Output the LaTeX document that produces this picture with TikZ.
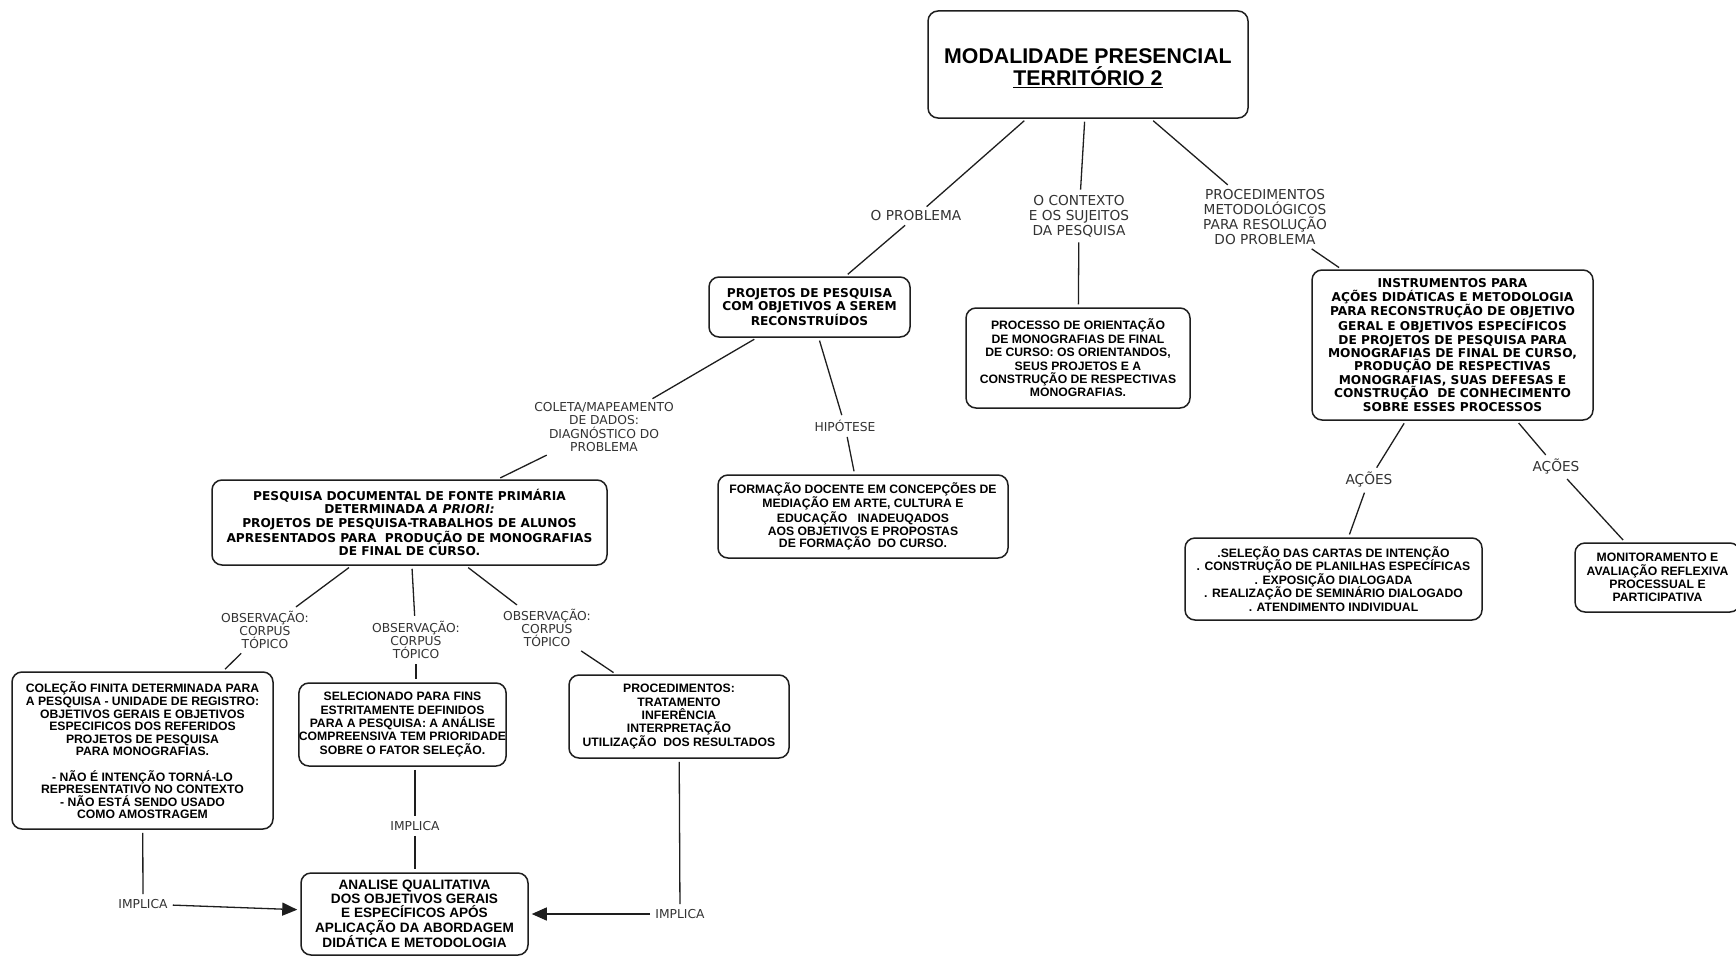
\documentclass[tikz,border=0pt]{standalone}
\usepackage{fontspec}
\setmainfont{Liberation Sans}
\newfontfamily\verd{DejaVu Sans}
\usetikzlibrary{arrows.meta}
\definecolor{linec}{HTML}{1E1E1E}
\definecolor{labc}{HTML}{333333}
\tikzset{
  box/.style={draw=linec, line width=1.5pt, rounded corners=10pt, align=center,
              inner sep=0pt, text=black},
  ab/.style={box, font=\fontsize{12.2}{13.4}\selectfont\bfseries},
  vb/.style={box, font=\fontsize{12.2}{13.4}\selectfont\verd\bfseries},
  lab/.style={align=center, inner sep=2pt, text=labc,
              font=\fontsize{13.7}{15.2}\selectfont\verd},
  labs/.style={lab, font=\fontsize{12.3}{13.3}\selectfont\verd},
  conn/.style={draw=linec, line width=1.3pt, shorten <=3pt, shorten >=3pt},
  arr/.style={conn, -{Triangle[length=15pt,width=13pt]}},
}
\begin{document}
\begin{tikzpicture}[x=1pt,y=-1pt]
\useasboundingbox[fill=white] (0,0) rectangle (1736,958);

% ---- boxes ----
\node[box, minimum width=320pt, minimum height=107pt] (T) at (1088,64.5) {};
\node[align=center, inner sep=0pt, font=\fontsize{21.3}{22}\selectfont\bfseries]
  (Tt) at (1088,68) {MODALIDADE PRESENCIAL\\ \underline{TERRITÓRIO 2}};

\node[vb, minimum width=201pt, minimum height=60pt] (P1) at (809.5,307)
  {PROJETOS DE PESQUISA\\ COM OBJETIVOS A SEREM\\ RECONSTRUÍDOS};

\node[ab, minimum width=224pt, minimum height=100pt] (P2) at (1078,358)
  {PROCESSO DE ORIENTAÇÃO\\ DE MONOGRAFIAS DE FINAL\\ DE CURSO: OS ORIENTANDOS,\\
   SEUS PROJETOS E A\\ CONSTRUÇÃO DE RESPECTIVAS\\ MONOGRAFIAS.};

\node[vb, minimum width=281pt, minimum height=150pt] (I) at (1452.5,345)
  {INSTRUMENTOS PARA\\ AÇÕES DIDÁTICAS E METODOLOGIA\\ PARA RECONSTRUÇÃO DE OBJETIVO\\
   GERAL E OBJETIVOS ESPECÍFICOS\\ DE PROJETOS DE PESQUISA PARA\\
   MONOGRAFIAS DE FINAL DE CURSO,\\ PRODUÇÃO DE RESPECTIVAS\\
   MONOGRAFIAS, SUAS DEFESAS E\\ CONSTRUÇÃO\ \ DE CONHECIMENTO\\ SOBRE ESSES PROCESSOS};

\node[ab, minimum width=297pt, minimum height=82pt] (S) at (1333.5,579)
  {.SELEÇÃO DAS CARTAS DE INTENÇÃO\\ . CONSTRUÇÃO DE PLANILHAS ESPECÍFICAS\\
   . EXPOSIÇÃO DIALOGADA\\ . REALIZAÇÃO DE SEMINÁRIO DIALOGADO\\ . ATENDIMENTO INDIVIDUAL};

\node[ab, minimum width=165pt, minimum height=69pt] (M) at (1657.5,577.5)
  {MONITORAMENTO E\\ AVALIAÇÃO REFLEXIVA\\ PROCESSUAL E\\ PARTICIPATIVA};

\node[ab, minimum width=290pt, minimum height=83pt,
      font=\fontsize{12.2}{12.7}\selectfont\bfseries] (F) at (863,516.5)
  {FORMAÇÃO DOCENTE EM CONCEPÇÕES DE\\ MEDIAÇÃO EM ARTE, CULTURA E\\
   EDUCAÇÃO\ \ \ INADEUQADOS\\ AOS OBJETIVOS E PROPOSTAS\\ DE FORMAÇÃO\ \ DO CURSO.};

\node[vb, minimum width=395pt, minimum height=85pt] (D) at (409.5,522.5)
  {PESQUISA DOCUMENTAL DE FONTE PRIMÁRIA\\ DETERMINADA \textit{A PRIORI:}\\
   PROJETOS DE PESQUISA-TRABALHOS DE ALUNOS\\
   APRESENTADOS PARA\ \ PRODUÇÃO DE MONOGRAFIAS\\ DE FINAL DE CURSO.};

\node[ab, minimum width=261pt, minimum height=157pt,
      font=\fontsize{12.2}{12.6}\selectfont\bfseries] (C) at (142.5,750.5)
  {COLEÇÃO FINITA DETERMINADA PARA\\ A PESQUISA - UNIDADE DE REGISTRO:\\
   OBJETIVOS GERAIS E OBJETIVOS\\ ESPECIFICOS DOS REFERIDOS\\ PROJETOS DE PESQUISA\\
   PARA MONOGRAFIAS.\\[12.6pt] - NÃO É INTENÇÃO TORNÁ-LO\\ REPRESENTATIVO NO CONTEXTO\\
   - NÃO ESTÁ SENDO USADO\\ COMO AMOSTRAGEM};

\node[ab, minimum width=203pt, minimum height=83pt] (E) at (402.5,724.5)
  {SELECIONADO PARA FINS\\ ESTRITAMENTE DEFINIDOS\\ PARA A PESQUISA: A ANÁLISE\\
   COMPREENSIVA TEM PRIORIDADE\\ SOBRE O FATOR SELEÇÃO.};

\node[ab, minimum width=220pt, minimum height=83pt] (R) at (679,716.5)
  {PROCEDIMENTOS:\\ TRATAMENTO\\ INFERÊNCIA\\ INTERPRETAÇÃO\\ UTILIZAÇÃO\ \ DOS RESULTADOS};

\node[ab, minimum width=227pt, minimum height=82pt,
      font=\fontsize{13.6}{14.2}\selectfont\bfseries] (A) at (414.5,914)
  {ANALISE QUALITATIVA\\ DOS OBJETIVOS GERAIS\\ E ESPECÍFICOS APÓS\\
   APLICAÇÃO DA ABORDAGEM\\ DIDÁTICA E METODOLOGIA};

% ---- link labels ----
\node[lab] (LP) at (916,216) {O PROBLEMA};
\node[lab] (LC) at (1079,216) {O CONTEXTO\\ E OS SUJEITOS\\ DA PESQUISA};
\node[lab] (LM) at (1265,217) {PROCEDIMENTOS\\ METODOLÓGICOS\\ PARA RESOLUÇÃO\\ DO PROBLEMA};
\node[labs] (LCol) at (604,427) {COLETA/MAPEAMENTO\\ DE DADOS:\\ DIAGNÓSTICO DO\\ PROBLEMA};
\node[labs] (LH) at (845,426) {HIPÓTESE};
\node[labs] (LO1) at (265,630) {OBSERVAÇÃO:\\ CORPUS\\ TÓPICO};
\node[labs] (LO2) at (416,640) {OBSERVAÇÃO:\\ CORPUS\\ TÓPICO};
\node[labs] (LO3) at (547,628) {OBSERVAÇÃO:\\ CORPUS\\ TÓPICO};
\node[lab] (LA1) at (1369,480) {AÇÕES};
\node[lab] (LA2) at (1556,467) {AÇÕES};
\node[labs] (LI1) at (143,904) {IMPLICA};
\node[labs] (LI2) at (415,826) {IMPLICA};
\node[labs] (LI3) at (680,914) {IMPLICA};

% ---- connectors ----
\draw[conn] (T) -- (LP);
\draw[conn] (LP) -- (P1);
\draw[conn] (T) -- (LC);
\draw[conn] (LC) -- (P2);
\draw[conn] (T) -- (LM);
\draw[conn] (LM) -- (I);
\draw[conn] (P1) -- (LCol);
\draw[conn] (LCol) -- (D);
\draw[conn] (P1) -- (LH);
\draw[conn] (LH) -- (F);
\draw[conn] (I) -- (LA1);
\draw[conn] (LA1) -- (S);
\draw[conn] (I) -- (LA2);
\draw[conn] (LA2) -- (M);
\draw[conn] (D) -- (LO1);
\draw[conn] (D) -- (LO2);
\draw[conn] (D) -- (LO3);
\draw[conn] (LO1) -- (C);
\draw[conn] (LO2) -- (LO2 |- E.north);
\draw[conn] (LO3) -- (R);
\draw[conn] (C) -- (LI1);
\draw[conn] (LI2 |- E.south) -- (LI2);
\draw[conn] (LI2) -- (LI2 |- A.north);
\draw[conn] (R) -- (LI3);
\draw[arr] (LI1) -- (A);
\draw[arr] (LI3) -- (A);
\end{tikzpicture}
\end{document}
